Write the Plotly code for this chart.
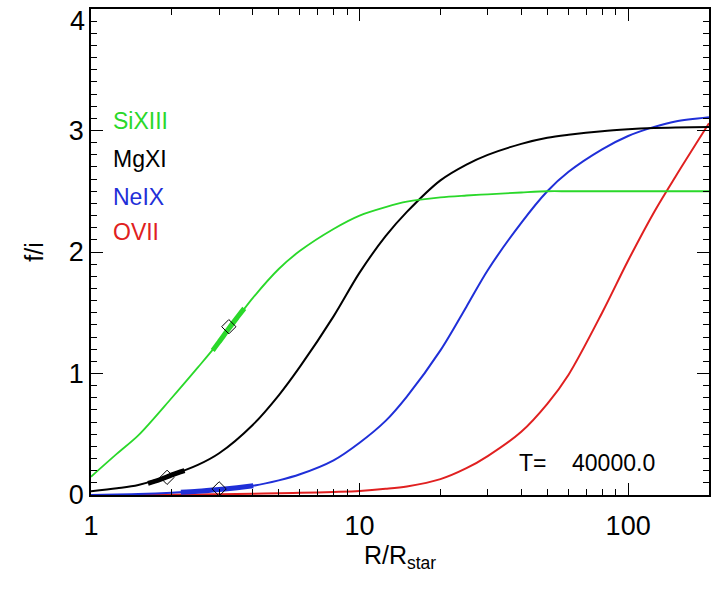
import plotly.graph_objects as go
import math

# ---- data ----
R = [1, 1.25, 1.5, 2, 2.5, 3, 4, 5, 6, 8, 10, 12.5, 15, 20, 25, 30, 40, 50, 60, 80, 100, 125, 150, 200]
si13 = [0.15, 0.34, 0.49, 0.80, 1.05, 1.26, 1.62, 1.86, 2.01, 2.19, 2.30, 2.37, 2.415, 2.45, 2.465, 2.475, 2.49, 2.50, 2.50, 2.50, 2.50, 2.50, 2.50, 2.50]
mg11 = [0.03, 0.055, 0.082, 0.165, 0.247, 0.343, 0.576, 0.82, 1.056, 1.47, 1.83, 2.13, 2.33, 2.59, 2.72, 2.80, 2.89, 2.94, 2.965, 2.995, 3.01, 3.02, 3.025, 3.03]
ne9 = [0.0, 0.003, 0.008, 0.018, 0.03, 0.045, 0.075, 0.12, 0.17, 0.285, 0.43, 0.61, 0.81, 1.19, 1.55, 1.85, 2.24, 2.50, 2.66, 2.845, 2.955, 3.03, 3.075, 3.11]
o7 = [0.0, 0.0, 0.0, 0.002, 0.004, 0.006, 0.01, 0.013, 0.017, 0.025, 0.033, 0.05, 0.07, 0.13, 0.22, 0.32, 0.52, 0.75, 0.99, 1.50, 1.93, 2.33, 2.62, 3.06]

# thick (highlighted) segments
si13_thick_R = [2.84, 3.0, 3.26, 3.5, 3.72]
si13_thick_f = [1.19, 1.26, 1.37, 1.46, 1.536]
mg11_thick_R = [1.63, 1.8, 2.0, 2.23]
mg11_thick_f = [0.096, 0.125, 0.165, 0.20]
ne9_thick_R = [2.16, 2.5, 3.0, 3.5, 4.02]
ne9_thick_f = [0.022, 0.03, 0.045, 0.06, 0.075]

# diamond markers
diam_R = [3.26, 1.92, 3.0]
diam_f = [1.385, 0.145, 0.05]

labels = ["SiXIII", "MgXI", "NeIX", "OVII"]
colors = ["#2ad82a", "#000000", "#1f2fd8", "#e02020"]

y_ticks = [0, 1, 2, 3]
x_minor = [2, 3, 4, 5, 6, 7, 8, 9, 20, 30, 40, 50, 60, 70, 80, 90, 200]

FONT = "Liberation Sans, Arial, Helvetica, sans-serif"

fig = go.Figure()

def line(x, y, c, w):
    fig.add_trace(go.Scatter(x=x, y=y, mode="lines", line=dict(color=c, width=w, shape="spline", smoothing=0.9),
                             showlegend=False, hoverinfo="skip"))

line(R, o7, colors[3], 2)
line(R, ne9, colors[2], 2)
line(ne9_thick_R, ne9_thick_f, colors[2], 5)
line(R, mg11, colors[1], 2)
line(mg11_thick_R, mg11_thick_f, colors[1], 5)
line(R, si13, colors[0], 1.8)
line(si13_thick_R, si13_thick_f, colors[0], 5)

fig.add_trace(go.Scatter(x=diam_R, y=diam_f, mode="markers",
                         marker=dict(symbol="diamond-open", size=11, color="black", line=dict(width=1, color="black")),
                         showlegend=False, hoverinfo="skip"))

# legend-like colored labels
ys = [0.7695, 0.691, 0.613, 0.541]
for lab, c, yy in zip(labels, colors, ys):
    fig.add_annotation(text=lab, x=0.032, y=yy, xref="paper", yref="paper", xanchor="left", yanchor="middle",
                       showarrow=False, font=dict(family=FONT, size=23, color=c))

fig.add_annotation(text="T=\u00a0\u00a0\u00a0\u00a040000.0", x=0.690, y=0.066, xref="paper", yref="paper",
                   xanchor="left", yanchor="middle", showarrow=False,
                   font=dict(family=FONT, size=23, color="black"))

# top y label "4" (drawn just below the frame edge, as in the reference)
fig.add_annotation(text="4", x=-0.006, y=3.9, xref="paper", yref="y", xanchor="right", yanchor="middle",
                   showarrow=False, font=dict(family=FONT, size=27, color="black"))

axis_common = dict(showgrid=False, zeroline=False, showline=True, linecolor="black", linewidth=1.5,
                   mirror="ticks", ticks="inside", ticklen=12, tickwidth=1.2, tickcolor="black", automargin=False,
                   tickfont=dict(family=FONT, size=27, color="black"))

fig.update_xaxes(type="log", range=[0, math.log10(200)], tickvals=[1, 10, 100], ticktext=["1", "10", "100"],
                 ticklabelstandoff=6,
                 minor=dict(ticks="inside", ticklen=6, tickwidth=1, tickcolor="black", tickvals=x_minor, showgrid=False),
                 title=dict(text="R/R<sub>star</sub>", font=dict(family=FONT, size=25, color="black"), standoff=6),
                 **axis_common)
fig.update_yaxes(range=[-0.0005, 4.0005], tickvals=y_ticks,
                 minor=dict(ticks="inside", ticklen=6, tickwidth=1, tickcolor="black", dtick=0.1, showgrid=False),
                 title=dict(text="f/i", font=dict(family=FONT, size=25, color="black"), standoff=18),
                 **axis_common)

fig.update_layout(width=719, height=600, margin=dict(l=91, r=10, t=9, b=105, autoexpand=False),
                  paper_bgcolor="white", plot_bgcolor="white", showlegend=False)

fig.write_html("out.html", config={"displayModeBar": False},
               post_script="document.body.style.margin='0';")
